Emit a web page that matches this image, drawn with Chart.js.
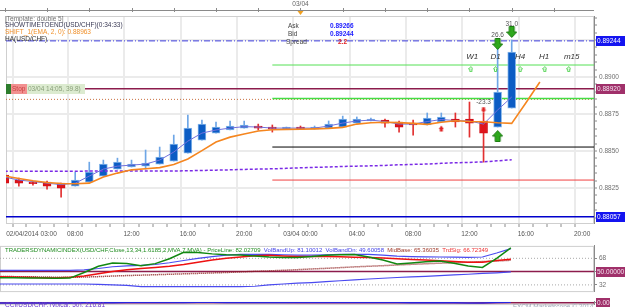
<!DOCTYPE html>
<html>
<head>
<meta charset="utf-8">
<title>USD/CHF H1</title>
<script src="https://cdn.jsdelivr.net/npm/chart.js@4.4.1/dist/chart.umd.min.js"></script>
<style>
  html, body { margin: 0; padding: 0; background: #fff; overflow: hidden; }
  .pane { position: absolute; left: 0; width: 625px; }
  #mainPane { top: 0; height: 245px; }
  #tdiPane { top: 240px; height: 57px; }
  #cciPane { top: 296px; height: 14px; }
</style>
</head>
<body>
<div class="pane" id="mainPane"><canvas id="mainChart"></canvas></div>
<div class="pane" id="tdiPane"><canvas id="tdiChart"></canvas></div>
<div class="pane" id="cciPane"><canvas id="cciChart"></canvas></div>
<script>
// hours counted from 02/04/2014 03:00, one H1 bar per hour
const barHours = [0,1,2,3,4,5,6,7,8,9,10,11,12,13,14,15,16,17,18,19,20,21,22,23,24,25,26,27,28,29,30,31,32,33,34,35,36];
const emaHours = [0,1,2,3,4,5,6,7,8,9,10,11,12,13,14,15,16,17,18,19,20,21,22,23,24,25,26,27,28,29,30,31,32,33,34,35,36,37,38];

const opens  = [0.88338,0.88304,0.88290,0.88290,0.88283,0.88263,0.88290,0.88331,0.88378,0.88392,0.88398,0.88412,0.88432,0.88486,0.88574,0.88621,0.88642,0.88655,0.88669,0.88662,0.88648,0.88662,0.88648,0.88655,0.88662,0.88689,0.88703,0.88709,0.88696,0.88689,0.88676,0.88696,0.88716,0.88716,0.88703,0.88662,0.88790];
const highs  = [0.88351,0.88317,0.88297,0.88297,0.88283,0.88358,0.88425,0.88439,0.88452,0.88439,0.88507,0.88527,0.88608,0.88743,0.88709,0.88696,0.88703,0.88703,0.88682,0.88676,0.88662,0.88669,0.88669,0.88703,0.88736,0.88730,0.88723,0.88716,0.88703,0.88709,0.88757,0.88757,0.88757,0.88831,0.88757,0.89196,0.89250];
const lows   = [0.88270,0.88263,0.88270,0.88243,0.88189,0.88263,0.88290,0.88331,0.88378,0.88392,0.88378,0.88412,0.88432,0.88486,0.88574,0.88621,0.88642,0.88655,0.88642,0.88628,0.88648,0.88648,0.88648,0.88655,0.88662,0.88689,0.88703,0.88662,0.88628,0.88608,0.88676,0.88696,0.88662,0.88594,0.88425,0.88662,0.88790];
const closes = [0.88283,0.88283,0.88280,0.88263,0.88250,0.88304,0.88358,0.88412,0.88425,0.88412,0.88419,0.88459,0.88547,0.88655,0.88682,0.88662,0.88669,0.88676,0.88655,0.88648,0.88662,0.88648,0.88662,0.88682,0.88716,0.88716,0.88716,0.88689,0.88662,0.88676,0.88723,0.88730,0.88696,0.88689,0.88621,0.88899,0.89169];

const emaLine = [0.88331,0.88315,0.88299,0.88288,0.88281,0.88279,0.88283,0.88324,0.88351,0.88373,0.88380,0.88388,0.88409,0.88446,0.88503,0.88561,0.88594,0.88615,0.88635,0.88644,0.88646,0.88647,0.88650,0.88653,0.88660,0.88682,0.88691,0.88694,0.88692,0.88687,0.88680,0.88694,0.88705,0.88699,0.88698,0.88691,0.88687,0.88824,0.88966];
const haLine = [0.88324,0.88304,0.88294,0.88283,0.88273,0.88283,0.88331,0.88378,0.88398,0.88405,0.88412,0.88439,0.88493,0.88567,0.88621,0.88642,0.88655,0.88665,0.88662,0.88655,0.88655,0.88655,0.88655,0.88669,0.88689,0.88703,0.88709,0.88699,0.88682,0.88682,0.88699,0.88713,0.88706,0.88703,0.88682,0.88777,0.88865];
const maLine = [0.88363,0.88363,0.88363,0.88363,0.88363,0.88363,0.88365,0.88365,0.88365,0.88365,0.88365,0.88365,0.88365,0.88367,0.88369,0.88371,0.88373,0.88376,0.88378,0.88380,0.88383,0.88387,0.88390,0.88392,0.88396,0.88398,0.88400,0.88403,0.88407,0.88410,0.88412,0.88417,0.88421,0.88423,0.88427,0.88434,0.88441];

// horizontal levels on the price chart
const levelPrices = [0.89244, 0.89081, 0.88920, 0.88855, 0.88849, 0.88527, 0.88304, 0.88057];
const levelFrom   = [0.086, 19, 0.086, 19, 0.086, 19, 19, 0.086];

// signal arrows and their labels
const markerHours  = [35, 36, 35, 34, 31];
const markerPrices = [0.89223, 0.89304, 0.88601, 0.88777, 0.88652];
const markerKinds  = ['greenDown', 'greenDown', 'greenUp', 'redDown', 'redUp'];
const markerTexts  = ['26.6', '31.0', '', '-23.3', ''];
const markerTextPrices = [0.89284, 0.89358, 0, 0.88831, 0];

const tfNames = ['W1', 'D1', 'H4', 'H1', 'm15'];
const tfHours = [33.2, 34.85, 36.6, 38.3, 40.26];
const tfArrowHours = [33.1, 34.85, 36.6, 38.35, 40.05];

// time axis
const timeLabels = ['02/04/2014 03:00', '08:00', '12:00', '16:00', '20:00', '03/04 00:00', '04:00', '08:00', '12:00', '16:00', '20:00'];
const labelHours = [0.1, 5, 9, 13, 17, 21, 25, 29, 33, 37, 41];
const gridHours = [1, 5, 9, 13, 17, 21, 25, 29, 33, 37, 41];

// Traders Dynamic Index
const priceLine   = [41.6,41.6,41.2,41.2,41.0,41.2,48.8,57.2,61.6,61.0,57.8,60.8,67.4,76.2,75.8,74.0,72.8,72.4,71.0,69.8,69.2,69.2,70.4,72.2,72.8,73.2,69.8,65.6,60.4,61.6,63.2,64.4,61.4,57.6,55.6,68.0,82.03];
const tradeSignal = [43.2,42.8,42.2,41.6,41.2,42.2,44.0,47.0,50.0,52.4,54.2,55.6,57.2,59.6,62.6,65.6,68.0,69.8,71.6,72.0,71.2,70.4,70.4,70.4,70.0,69.6,69.2,68.4,67.4,66.4,65.6,64.8,63.8,62.6,62.8,65.0,66.72];
const volBandUp   = [51.6,51.6,51.6,51.6,51.6,51.6,52.4,54.2,56.6,57.8,58.4,59.6,62.0,65.0,68.0,70.4,72.2,73.2,73.4,73.4,72.8,72.2,72.2,72.8,73.4,73.4,73.2,72.2,71.0,70.4,70.0,69.8,69.6,69.2,69.8,75.2,81.10];
const volBandDn   = [33.2,33.2,33.2,33.2,33.2,33.2,33.2,32.6,32.0,31.4,29.6,29.6,29.6,29.6,29.6,29.6,29.6,29.6,30.2,32.0,33.2,34.4,35.2,36.4,37.6,38.8,40.0,41.0,42.0,42.8,43.6,44.6,45.6,46.4,47.6,48.4,49.60];
const midBase     = [43.4,43.2,43.0,42.8,42.4,42.2,42.6,43.2,44.0,44.6,45.2,45.8,46.4,47.0,47.6,48.2,48.8,49.6,50.4,51.0,51.8,52.6,53.6,54.4,55.4,56.4,57.2,58.0,59.0,59.8,60.6,61.4,62.0,62.8,63.6,64.4,65.36];
const tdiLevels = [68, 50, 32];

// CCI(50)
const cciLine   = [-110,-130,-140,-130,-110,-60,10,50,70,80,90,100,130,170,190,190,180,170,160,150,140,130,130,130,140,140,130,110,90,70,60,40,10,-60,-130,120,216.81];
const cciSignal = [-60,-80,-100,-110,-110,-90,-40,0,30,50,60,70,90,120,150,160,160,150,140,130,120,110,110,110,110,115,110,100,80,60,40,20,0,-50,-250,80,190];

const xRange = [0.086, 41.844];
const FONT = '"Liberation Sans", Arial, sans-serif';
const CLEAR = 'rgba(0,0,0,0)';

Chart.defaults.font.family = FONT;
Chart.defaults.font.size = 6.5;
Chart.defaults.color = '#666';
Chart.defaults.animation = false;
Chart.defaults.plugins.legend.display = false;
Chart.defaults.plugins.tooltip.enabled = false;

function pts(xs, ys) {
  return ys.map((v, k) => ({ x: xs[k], y: v }));
}

function lineSet(data, color, width, dash, order) {
  return { type: 'line', data, borderColor: color, borderWidth: width, borderDash: dash || [],
    pointRadius: 0, tension: 0, fill: false, order };
}

function blockArrow(w, h, fill, stroke, up) {
  const c = document.createElement('canvas');
  c.width = w; c.height = h;
  const g = c.getContext('2d');
  const sw = Math.max(2, Math.round(w * 0.42));
  const hh = Math.round(h * 0.5);
  const cx = w / 2;
  g.beginPath();
  if (up) {
    g.moveTo(cx, 0.5); g.lineTo(w - 0.5, hh); g.lineTo(cx + sw / 2, hh); g.lineTo(cx + sw / 2, h - 0.5);
    g.lineTo(cx - sw / 2, h - 0.5); g.lineTo(cx - sw / 2, hh); g.lineTo(0.5, hh);
  } else {
    g.moveTo(cx, h - 0.5); g.lineTo(w - 0.5, h - hh); g.lineTo(cx + sw / 2, h - hh); g.lineTo(cx + sw / 2, 0.5);
    g.lineTo(cx - sw / 2, 0.5); g.lineTo(cx - sw / 2, h - hh); g.lineTo(0.5, h - hh);
  }
  g.closePath();
  g.fillStyle = fill; g.fill();
  if (stroke) { g.strokeStyle = stroke; g.lineWidth = 1; g.stroke(); }
  return c;
}

const icons = {
  greenDown: blockArrow(11, 12, '#2ea81c', '#1b7a10', false),
  greenUp: blockArrow(11, 12, '#2ea81c', '#1b7a10', true),
  redDown: blockArrow(6, 7, '#e02424', null, false),
  redUp: blockArrow(6, 7, '#e02424', null, true),
  tf: blockArrow(5, 6, '#ffffff', '#55d455', true)
};

function valueBoxes(items) {
  return {
    id: 'valueBoxes',
    afterDatasetsDraw(chart) {
      const { ctx, scales: { y } } = chart;
      ctx.save();
      ctx.font = '6.5px ' + FONT;
      ctx.textBaseline = 'middle';
      items.forEach(b => {
        const py = Math.round(y.getPixelForValue(b.value));
        ctx.fillStyle = b.bg;
        ctx.fillRect(y.left + 2, py - 5, b.w, 10);
        ctx.fillStyle = b.fg;
        ctx.fillText(b.text, y.left + 3, py + 0.5);
      });
      ctx.restore();
    }
  };
}

const frame = {
  id: 'frame',
  beforeDatasetsDraw(chart) {
    const { ctx, chartArea: a } = chart;
    ctx.save();
    ctx.strokeStyle = '#cfcfcf';
    ctx.lineWidth = 1;
    ctx.strokeRect(a.left + 0.5, a.top + 0.5, a.right - a.left - 1, a.bottom - a.top);
    ctx.restore();
  }
};

const mainDecor = {
  id: 'mainDecor',
  afterDatasetsDraw(chart) {
    const { ctx, chartArea: a, scales: { x, y } } = chart;
    ctx.save();
    ctx.textBaseline = 'middle';

    // time ruler across the top
    ctx.strokeStyle = '#8a8a8a';
    ctx.lineWidth = 1;
    ctx.beginPath();
    ctx.moveTo(0, 10.5); ctx.lineTo(a.right, 10.5);
    for (let h = 0; h <= 41; h += 3) {
      const px = Math.round(x.getPixelForValue(h)) + 0.5;
      ctx.moveTo(px, 8); ctx.lineTo(px, 12);
    }
    ctx.stroke();
    const dayX = x.getPixelForValue(21);
    ctx.fillStyle = '#666';
    ctx.font = '6.5px ' + FONT;
    ctx.textAlign = 'center';
    ctx.fillText('03/04', dayX, 4);
    ctx.fillStyle = '#f0a020';
    ctx.beginPath();
    ctx.moveTo(dayX - 3, 11); ctx.lineTo(dayX + 3, 11); ctx.lineTo(dayX, 15); ctx.closePath();
    ctx.fill();

    // indicator legend
    ctx.textAlign = 'left';
    [['[Template: double 5]', '#707070', 19],
     ['SHOWTIMETOEND(USD/CHF)(0:34:33)', '#3a3a55', 25.5],
     ['SHIFT_1(EMA, 2, 0): 0.88963', '#f0902a', 32.5],
     ['HA(USD/CHF)', '#333', 39]].forEach(([t, c, ty]) => {
      ctx.fillStyle = c;
      ctx.fillText(t, 5, ty);
    });

    // ask / bid / spread
    ctx.fillStyle = '#444';
    ctx.fillText('Ask', 288, 26);
    ctx.fillText('Bid', 288, 34);
    ctx.fillText('Spread', 286, 42);
    ctx.font = 'bold 6.5px ' + FONT;
    ctx.fillStyle = '#1a1aff';
    ctx.fillText('0.89266', 330, 26);
    ctx.fillText('0.89244', 330, 34);
    ctx.fillStyle = '#e02020';
    ctx.fillText('2.2', 338, 42);

    // stop tag on the level line
    const sy = Math.round(y.getPixelForValue(levelPrices[2]));
    ctx.fillStyle = '#2d7d2d';
    ctx.fillRect(6, sy - 5, 5, 10);
    ctx.fillStyle = '#f29090';
    ctx.fillRect(11, sy - 5, 16, 10);
    ctx.fillStyle = '#dcebd0';
    ctx.fillRect(27, sy - 5, 58, 10);
    ctx.font = '6.5px ' + FONT;
    ctx.fillStyle = '#c84040';
    ctx.fillText('Stop', 12, sy + 0.5);
    ctx.fillStyle = '#8aa07a';
    ctx.fillText('03/04 14:05, 39.8)', 28, sy + 0.5);

    // arrow labels
    ctx.textAlign = 'center';
    ctx.fillStyle = '#555';
    markerTexts.forEach((t, k) => {
      if (!t) return;
      ctx.fillText(t, x.getPixelForValue(markerHours[k]), y.getPixelForValue(markerTextPrices[k]));
    });

    // timeframe tags
    ctx.font = 'italic 8px ' + FONT;
    ctx.fillStyle = '#333';
    tfNames.forEach((t, k) => {
      ctx.fillText(t, x.getPixelForValue(tfHours[k]), y.getPixelForValue(0.89135));
    });
    ctx.restore();
  }
};

new Chart(document.getElementById('mainChart'), {
  type: 'bar',
  data: {
    datasets: [
      ...levelPrices.map((v, k) => {
        const styles = [
          ['#3b3bdc', 1, [6, 2, 1, 2]], ['#55e055', 1, []], ['#8c1c4c', 1.5, []], ['#44dd44', 1.5, []],
          ['#c87040', 1, [1, 2]], ['#000000', 1, []], ['#f04040', 1, []], ['#0000cc', 1.5, []]
        ][k];
        return lineSet([{ x: levelFrom[k], y: v }, { x: xRange[1], y: v }], styles[0], styles[1], styles[2], 9);
      }),
      {
        type: 'bar', order: 6, grouped: false, barThickness: 1,
        data: barHours.map((h, k) => ({ x: h, y: [lows[k], highs[k]] })),
        backgroundColor: c => closes[c.dataIndex] >= opens[c.dataIndex] ? '#6ea6e6' : '#e23030'
      },
      {
        type: 'bar', order: 5, grouped: false, barThickness: 8, borderWidth: 1, borderSkipped: false,
        data: barHours.map((h, k) => ({ x: h, y: [opens[k], closes[k]] })),
        backgroundColor: c => closes[c.dataIndex] >= opens[c.dataIndex] ? '#0b5cc4' : '#e0141a',
        borderColor: c => closes[c.dataIndex] >= opens[c.dataIndex] ? '#86b6ea' : '#d01018'
      },
      lineSet(pts(barHours, maLine), '#7a2ae6', 1.5, [3, 2], 4),
      lineSet(pts(barHours, haLine), '#7070dc', 1, [], 3),
      lineSet(pts(emaHours, emaLine), '#f5861f', 1.6, [], 2),
      {
        type: 'scatter', order: 1, data: pts(markerHours, markerPrices),
        pointStyle: c => icons[markerKinds[c.dataIndex]], pointRadius: 5
      },
      {
        type: 'scatter', order: 1, data: tfArrowHours.map(h => ({ x: h, y: 0.89054 })),
        pointStyle: icons.tf, pointRadius: 3
      }
    ]
  },
  options: {
    responsive: true,
    maintainAspectRatio: false,
    layout: { padding: { top: 16, left: 0, right: 0, bottom: 0 } },
    scales: {
      x: {
        type: 'linear', min: xRange[0], max: xRange[1], offset: false,
        afterBuildTicks: s => {
          const t = [{ value: 0.1 }];
          for (let h = 1; h <= 41; h++) t.push({ value: h });
          t.push({ value: 41.8 });
          s.ticks = t;
        },
        afterFit: s => { s.height = 22; s.paddingLeft = 0; s.paddingRight = 0; },
        ticks: {
          autoSkip: false, maxRotation: 0, align: 'inner', padding: 3, color: '#555',
          callback: v => { const k = labelHours.indexOf(v); return k < 0 ? '' : timeLabels[k]; }
        },
        grid: {
          color: c => (c.tick && gridHours.includes(c.tick.value)) ? '#ebebeb' : CLEAR,
          lineWidth: 2, tickWidth: 1, tickLength: 4,
          tickColor: c => (c.tick && Number.isInteger(c.tick.value)) ? '#8a8a8a' : CLEAR
        },
        border: { color: '#a8a8a8' }
      },
      y: {
        position: 'right', min: 0.88014, max: 0.89412,
        afterBuildTicks: s => {
          const t = [];
          for (let k = 1761; k <= 1788; k++) t.push({ value: k * 0.0005 });
          s.ticks = t;
        },
        afterFit: s => { s.width = 31; },
        ticks: {
          autoSkip: false, padding: 2, color: '#707070',
          callback: v => Math.round(v / 0.0005) % 5 === 0 ? v.toFixed(4) : ''
        },
        grid: {
          color: c => (c.tick && Math.round(c.tick.value / 0.0005) % 5 === 0) ? '#ebebeb' : CLEAR,
          lineWidth: 2, tickWidth: 1, tickLength: 3, tickColor: '#8a8a8a'
        },
        border: { color: '#8a8a8a' }
      }
    }
  },
  plugins: [frame, mainDecor, valueBoxes([
    { value: levelPrices[0], text: '0.89244', bg: '#1414f0', fg: '#ffffff', w: 29 },
    { value: levelPrices[2], text: '0.88920', bg: '#a0306a', fg: '#f4e4f0', w: 29 },
    { value: levelPrices[7], text: '0.88057', bg: '#1414f0', fg: '#ffffff', w: 29 }
  ])]
});

const tdiTitle = {
  id: 'tdiTitle',
  afterDatasetsDraw(chart) {
    const { ctx, chartArea: a } = chart;
    ctx.save();
    ctx.font = '6px ' + FONT;
    ctx.textBaseline = 'middle';
    let tx = 5;
    [['TRADERSDYNAMICINDEX(USD/CHF,Close,13,34,1.6185,2,MVA,7,MVA)', '#1e8a1e'],
     [' - PriceLine: 82.02709', '#1e8a1e'],
     ['  VolBandUp: 81.10012', '#4040e8'],
     ['  VolBandDn: 49.60058', '#4040e8'],
     ['  MidBase: 65.36035', '#a03a2a'],
     ['  TrdSig: 66.72349', '#ee3030']].forEach(([t, c]) => {
      ctx.fillStyle = c;
      ctx.fillText(t, tx, a.top + 4);
      tx += ctx.measureText(t).width;
    });
    ctx.restore();
  }
};

new Chart(document.getElementById('tdiChart'), {
  type: 'line',
  data: {
    datasets: [
      lineSet([{ x: xRange[0], y: tdiLevels[0] }, { x: xRange[1], y: tdiLevels[0] }], '#a8a8a8', 1, [1, 2], 9),
      lineSet([{ x: xRange[0], y: tdiLevels[1] }, { x: xRange[1], y: tdiLevels[1] }], '#8c1c4c', 1.5, [], 9),
      lineSet([{ x: xRange[0], y: tdiLevels[2] }, { x: xRange[1], y: tdiLevels[2] }], '#a8a8a8', 1, [1, 2], 9),
      lineSet(pts(barHours, volBandUp), '#4a4af0', 1.2, [], 5),
      lineSet(pts(barHours, volBandDn), '#4a4af0', 1.2, [], 5),
      lineSet(pts(barHours, midBase), '#8b1a1a', 1.5, [1, 1], 4),
      lineSet(pts(barHours, tradeSignal), '#ee1111', 1.5, [], 3),
      lineSet(pts(barHours, priceLine), '#118811', 1.5, [], 2)
    ]
  },
  options: {
    responsive: true,
    maintainAspectRatio: false,
    layout: { padding: { top: 3, bottom: 3, left: 0, right: 0 } },
    scales: {
      x: { type: 'linear', display: false, min: xRange[0], max: xRange[1] },
      y: {
        position: 'right', min: 23.6, max: 84.8,
        afterBuildTicks: s => { s.ticks = tdiLevels.map(v => ({ value: v })); },
        afterFit: s => { s.width = 31; },
        ticks: { padding: 2, color: '#707070', callback: v => v === 50 ? '' : String(v) },
        grid: { drawOnChartArea: false, tickLength: 3, tickColor: '#8a8a8a' },
        border: { color: '#8a8a8a' }
      }
    }
  },
  plugins: [frame, tdiTitle, valueBoxes([
    { value: tdiLevels[1], text: '50.00000', bg: '#a0306a', fg: '#f4e4f0', w: 29 }
  ])]
});

const cciTitle = {
  id: 'cciTitle',
  afterDatasetsDraw(chart) {
    const { ctx, chartArea: a } = chart;
    ctx.save();
    ctx.font = '6.5px ' + FONT;
    ctx.textBaseline = 'middle';
    ctx.fillStyle = '#6a3acd';
    ctx.fillText('CCI(USD/CHF,Typical, 50): 216.81', 5, a.top + 3.5);
    ctx.fillStyle = '#a0a8b8';
    ctx.fillText('FXCM Marketscope \u00a9 2014', 513, a.top + 5);
    ctx.restore();
  }
};

new Chart(document.getElementById('cciChart'), {
  type: 'line',
  data: {
    datasets: [
      lineSet([{ x: xRange[0], y: 0 }, { x: xRange[1], y: 0 }], '#8c1c4c', 1.5, [], 9),
      lineSet(pts(barHours, cciSignal), '#f06060', 1.2, [], 3),
      lineSet(pts(barHours, cciLine), '#2626e0', 1.5, [], 2)
    ]
  },
  options: {
    responsive: true,
    maintainAspectRatio: false,
    layout: { padding: { top: 1, bottom: 0, left: 0, right: 0 } },
    scales: {
      x: { type: 'linear', display: false, min: xRange[0], max: xRange[1] },
      y: {
        position: 'right', min: -600, max: 400,
        afterBuildTicks: s => { s.ticks = [{ value: 0 }]; },
        afterFit: s => { s.width = 31; },
        ticks: { padding: 2, callback: () => '' },
        grid: { drawOnChartArea: false, tickLength: 3, tickColor: '#8a8a8a' },
        border: { color: '#8a8a8a' }
      }
    }
  },
  plugins: [frame, cciTitle, valueBoxes([
    { value: 0, text: '0.00', bg: '#a0306a', fg: '#f4e4f0', w: 14 }
  ])]
});
</script>
</body>
</html>
